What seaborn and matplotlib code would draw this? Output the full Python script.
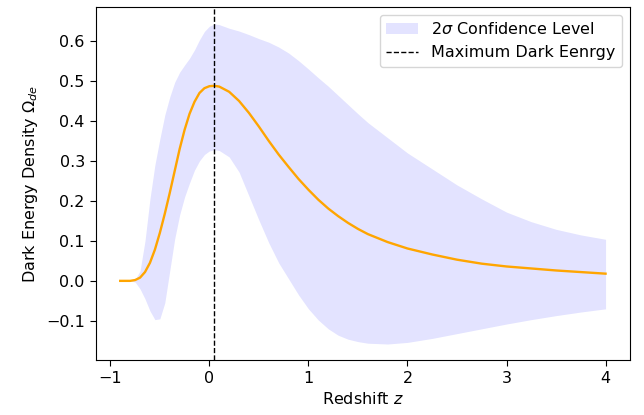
import numpy as np
import pandas as pd
import matplotlib
matplotlib.use("Agg")
import matplotlib.pyplot as plt
import seaborn as sns

# ==========================================
# DATA
# ==========================================

z = [-0.9, -0.8, -0.75, -0.7, -0.65, -0.6, -0.55, -0.5, -0.45, -0.4,
     -0.35, -0.3, -0.25, -0.2, -0.15, -0.1, -0.05, 0.0, 0.05, 0.1,
     0.2, 0.3, 0.4, 0.5, 0.6, 0.7, 0.8, 0.9, 1.0, 1.1,
     1.2, 1.3, 1.4, 1.5, 1.6, 1.8, 2.0, 2.25, 2.5, 2.75,
     3.0, 3.25, 3.5, 3.75, 4.0]

omega_mean = [0.0, 0.0, 0.002, 0.008, 0.022, 0.045, 0.078, 0.12, 0.168, 0.22,
              0.275, 0.33, 0.378, 0.418, 0.448, 0.47, 0.482, 0.487, 0.488, 0.486,
              0.473, 0.45, 0.42, 0.386, 0.35, 0.316, 0.285, 0.255, 0.228, 0.203,
              0.181, 0.162, 0.145, 0.13, 0.117, 0.097, 0.081, 0.066, 0.053, 0.043,
              0.036, 0.031, 0.026, 0.022, 0.018]

omega_upper = [0.0, 0.0, 0.003, 0.025, 0.10, 0.205, 0.29, 0.355, 0.415, 0.46,
               0.497, 0.522, 0.54, 0.557, 0.578, 0.603, 0.624, 0.637, 0.643, 0.641,
               0.632, 0.625, 0.616, 0.606, 0.597, 0.585, 0.57, 0.551, 0.53, 0.508,
               0.487, 0.464, 0.441, 0.418, 0.396, 0.358, 0.32, 0.28, 0.24, 0.205,
               0.172, 0.148, 0.129, 0.115, 0.104]

omega_lower = [0.0, 0.0, -0.003, -0.02, -0.045, -0.075, -0.097, -0.095, -0.055, 0.025,
               0.105, 0.165, 0.21, 0.245, 0.277, 0.3, 0.316, 0.325, 0.328, 0.326,
               0.31, 0.272, 0.212, 0.152, 0.095, 0.045, 0.005, -0.035, -0.07, -0.098,
               -0.12, -0.136, -0.146, -0.152, -0.156, -0.158, -0.154, -0.144, -0.132, -0.12,
               -0.108, -0.097, -0.087, -0.078, -0.07]

z_max = 0.05

df = pd.DataFrame({"z": z, "mean": omega_mean})

# ==========================================
# PLOT
# ==========================================

plt.rcParams['font.size'] = 11.5

fig, ax = plt.subplots(figsize=(6.44, 4.15), dpi=100)
fig.subplots_adjust(left=0.149, right=0.978, top=0.983, bottom=0.133)

ax.fill_between(
    z,
    omega_lower,
    omega_upper,
    color='blue',
    alpha=0.11,
    linewidth=0,
    label=r"2$\sigma$ Confidence Level"
)

sns.lineplot(
    x='z',
    y='mean',
    data=df,
    color='orange',
    linewidth=1.7,
    ax=ax
)

ax.axvline(
    z_max,
    color='black',
    linestyle='--',
    linewidth=1,
    label="Maximum Dark Eenrgy"
)

ax.set_xlim(-1.145, 4.245)
ax.set_ylim(-0.1975, 0.685)
ax.set_xticks([-1, 0, 1, 2, 3, 4])
ax.set_yticks([-0.1, 0.0, 0.1, 0.2, 0.3, 0.4, 0.5, 0.6])
ax.tick_params(length=4.5)

ax.set_xlabel(r"Redshift $z$")
ax.set_ylabel(r"Dark Energy Density $\Omega_{de}$")

ax.legend(loc='upper right')

plt.savefig("out.png", dpi=100)
